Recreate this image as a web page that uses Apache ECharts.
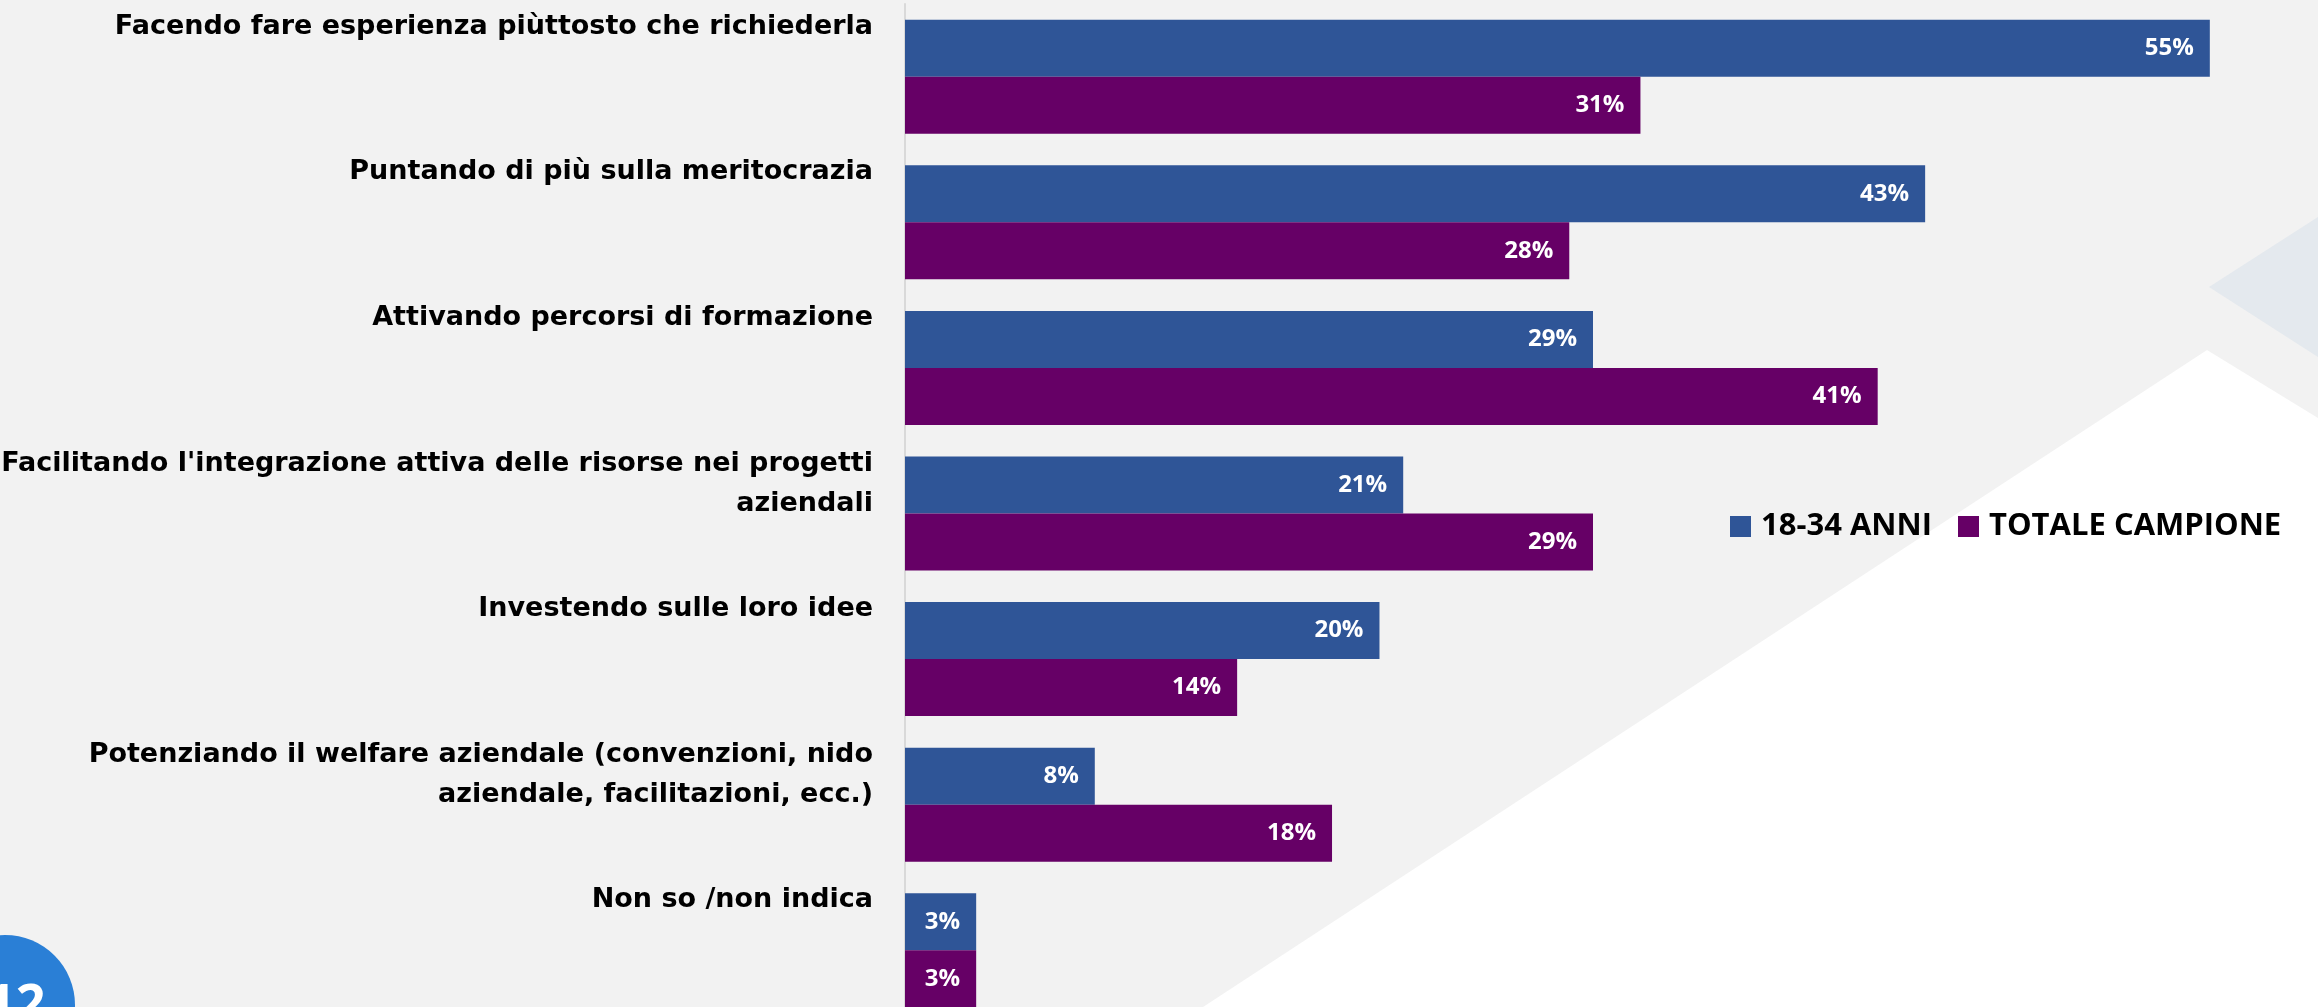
<!DOCTYPE html>
<html>
<head>
<meta charset="utf-8">
<script src="https://cdn.jsdelivr.net/npm/echarts@6/dist/echarts.min.js"></script>
<style>
html,body{margin:0;padding:0;background:#f2f2f2;}
#c{width:2318px;height:1007px;}
</style>
</head>
<body>
<div id="c"></div>
<script>
const categories = [
  "Facendo fare esperienza piùttosto che richiederla",
  "Puntando di più sulla meritocrazia",
  "Attivando percorsi di formazione",
  "Facilitando l'integrazione attiva delle risorse nei progetti\naziendali",
  "Investendo sulle loro idee",
  "Potenziando il welfare aziendale (convenzioni, nido\naziendale, facilitazioni, ecc.)",
  "Non so /non indica"
];
const seriesNames = ["18-34 ANNI", "TOTALE CAMPIONE"];
const young = [55, 43, 29, 21, 20, 8, 3];
const total = [31, 28, 41, 29, 14, 18, 3];

const chart = echarts.init(document.getElementById('c'));
const labelStyle = {
  show: true,
  position: 'insideRight',
  distance: 16,
  color: '#ffffff',
  fontFamily: 'Open Sans',
  fontWeight: 'bold',
  fontSize: 24,
  formatter: '{c}%'
};
chart.setOption({
  backgroundColor: '#f2f2f2',
  animation: false,
  graphic: {
    elements: [
      { type: 'polygon', z: -100, shape: { points: [[2207,350],[2318,418],[2318,1007],[1203,1007]] }, style: { fill: '#ffffff' } },
      { type: 'polygon', z: -100, shape: { points: [[2209,287],[2318,217],[2318,357]] }, style: { fill: '#e4e9ee' } },
      { type: 'circle', z: -100, shape: { cx: 5, cy: 1005, r: 70 }, style: { fill: '#2a7fd6' } },
      { type: 'text', z: -99, left: -14, top: 980, style: { text: '12', fill: '#ffffff', font: 'bold 52px "Open Sans"' } }
    ]
  },
  grid: { left: 905, top: 4, width: 1376, height: 1019, containLabel: false, outerBoundsMode: 'none' },
  legend: {
    data: seriesNames,
    icon: 'rect',
    itemWidth: 21,
    itemHeight: 21,
    itemGap: 26,
    left: 1725,
    top: 506,
    textStyle: { fontFamily: 'Open Sans', fontWeight: 'bold', fontSize: 31, color: '#000000', padding: [0,0,0,5] }
  },
  xAxis: {
    type: 'value', min: 0, max: 58, show: false,
    splitLine: { show: false }
  },
  yAxis: {
    type: 'category',
    data: categories,
    inverse: true,
    axisLine: { show: true, lineStyle: { color: '#d9d9d9', width: 2 } },
    axisTick: { show: false },
    axisLabel: {
      interval: 0,
      margin: 32,
      color: '#000000',
      fontFamily: 'DejaVu Sans',
      fontWeight: 'bold',
      fontSize: 27,
      lineHeight: 40,
      align: 'right',
      verticalAlign: 'top',
      padding: [-70, 0, 0, 0]
    }
  },
  series: [
    { name: seriesNames[0], type: 'bar', data: young, barWidth: 57, barGap: '0%', itemStyle: { color: '#2f5597' }, label: labelStyle },
    { name: seriesNames[1], type: 'bar', data: total, barWidth: 57, barGap: '0%', itemStyle: { color: '#660066' }, label: labelStyle }
  ]
});
</script>
</body>
</html>
